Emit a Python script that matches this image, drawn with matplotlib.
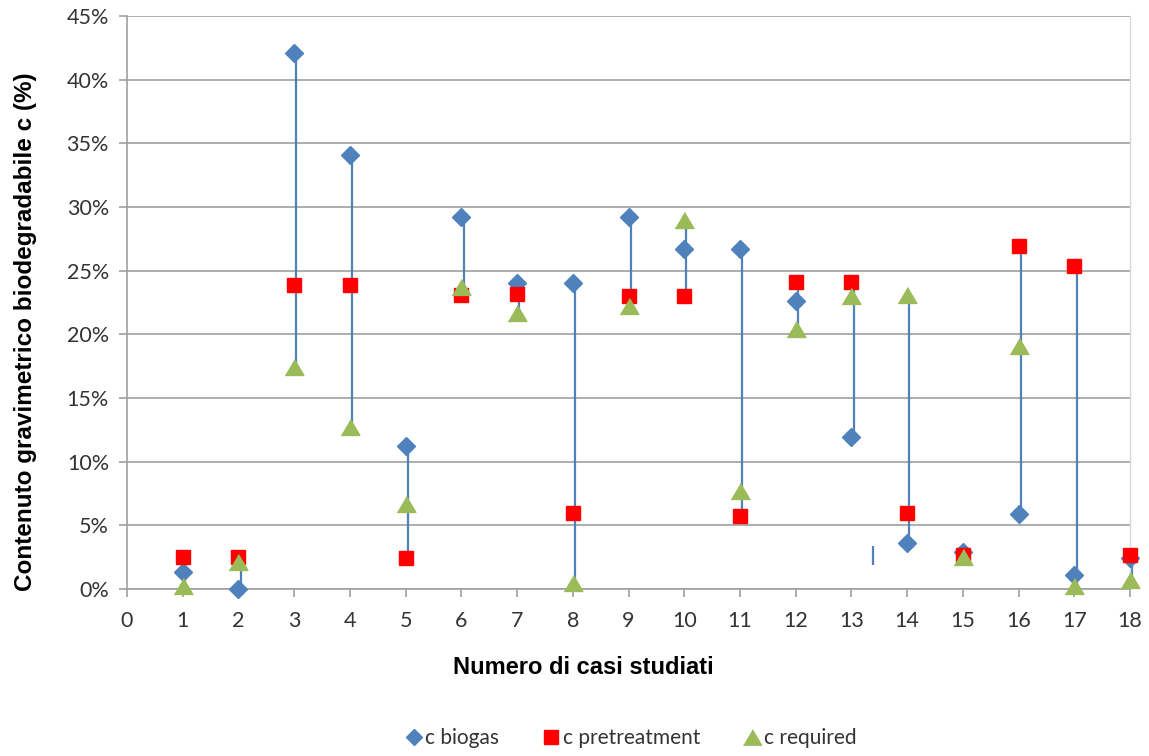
import matplotlib
matplotlib.use("Agg")
import matplotlib.pyplot as plt
from matplotlib.ticker import MultipleLocator, FuncFormatter
from matplotlib.lines import Line2D

cases = list(range(1, 19))
c_biogas = [0.013, 0.000, 0.421, 0.341, 0.112, 0.292, 0.240, 0.240, 0.292,
            0.267, 0.267, 0.226, 0.119, 0.036, 0.029, 0.059, 0.011, 0.024]
c_pretreatment = [0.025, 0.025, 0.239, 0.239, 0.024, 0.231, 0.232, 0.060, 0.230,
                  0.230, 0.057, 0.241, 0.241, 0.060, 0.027, 0.269, 0.254, 0.027]
c_required = [0.002, 0.021, 0.174, 0.127, 0.067, 0.237, 0.217, 0.005, 0.222,
              0.290, 0.077, 0.204, 0.230, 0.231, 0.025, 0.191, 0.002, 0.007]
# short stray high-low segment between cases 13 and 14
extra_x = [13.39, 13.39]
extra_y = [0.019, 0.034]

BLUE = "#4F81BD"
RED = "#FF0000"
GREEN = "#9BBB59"
GRID = "#A0A0A0"
TXT = "#333333"

W, H = 1149, 756
fig = plt.figure(figsize=(W / 100, H / 100), dpi=100)
ax = fig.add_axes([127 / W, 1 - 589 / H, (1130 - 127) / W, (589 - 16) / H])

# high-low lines joining the extreme values of each case
for x, a, b, c in zip(cases, c_biogas, c_pretreatment, c_required):
    lo, hi = min(a, b, c), max(a, b, c)
    ax.plot([x + 0.04, x + 0.04], [lo, hi], color=BLUE, lw=1.6, zorder=2,
            solid_capstyle="butt", clip_on=False)
ax.plot(extra_x, extra_y, color=BLUE, lw=1.6, zorder=2, solid_capstyle="butt")

tri = [(-1, -0.85), (1, -0.85), (0, 0.85)]
ax.plot(cases, c_biogas, linestyle="none", marker="D", ms=9.2, color=BLUE,
        mec=BLUE, zorder=3, clip_on=False, label="c biogas")
ax.plot(cases, c_pretreatment, linestyle="none", marker="s", ms=10, color=RED,
        mec=RED, zorder=3, clip_on=False, label="c pretreatment")
ax.plot(cases, c_required, linestyle="none", marker=tri, ms=13.5, color=GREEN,
        mec=GREEN, zorder=3, clip_on=False, label="c required")

ax.set_xlim(0, 18)
ax.set_ylim(0, 0.45)
ax.xaxis.set_major_locator(MultipleLocator(1))
ax.yaxis.set_major_locator(MultipleLocator(0.05))
ax.yaxis.set_major_formatter(FuncFormatter(lambda v, p: f"{v * 100:.0f}%"))
ax.grid(axis="y", color=GRID, lw=1.2, zorder=0)
ax.set_axisbelow(True)

for s in ["left", "bottom"]:
    ax.spines[s].set_color(GRID)
    ax.spines[s].set_linewidth(1.2)
ax.spines["top"].set_visible(False)
ax.spines["right"].set_color("#D9D9D9")
ax.spines["right"].set_linewidth(1.0)

ax.tick_params(axis="both", direction="out", length=6, width=1.2, color=GRID,
               labelsize=15.5, labelcolor=TXT)
ax.tick_params(axis="y", pad=7)
ax.tick_params(axis="x", pad=10)
for lab in ax.get_xticklabels() + ax.get_yticklabels():
    lab.set_fontfamily("Lato")

ax.set_xlabel("Numero di casi studiati", fontsize=17, fontweight="bold",
              family="Liberation Sans")
ax.xaxis.set_label_coords((583 - 127) / 1003, -(656 - 589) / 573)
ax.set_ylabel("Contenuto gravimetrico biodegradabile c (%)", fontsize=17.5,
              fontweight="bold", family="Liberation Sans")
ax.yaxis.set_label_coords((37 - 127) / 1003, (589 - 332) / 573)

handles = [
    Line2D([], [], linestyle="none", marker="D", ms=8, color=BLUE),
    Line2D([], [], linestyle="none", marker="s", ms=9.5, color=RED),
    Line2D([], [], linestyle="none", marker=tri, ms=13, color=GREEN),
]
fig.legend(handles, ["c biogas", "c pretreatment", "c required"], loc="center",
           bbox_to_anchor=(630 / W, 1 - 738 / H), ncol=3, frameon=False,
           prop={"family": "Lato", "size": 15}, handletextpad=0.05,
           columnspacing=2.0, handlelength=1.0, labelcolor=TXT)

fig.savefig("out.png", dpi=100)
